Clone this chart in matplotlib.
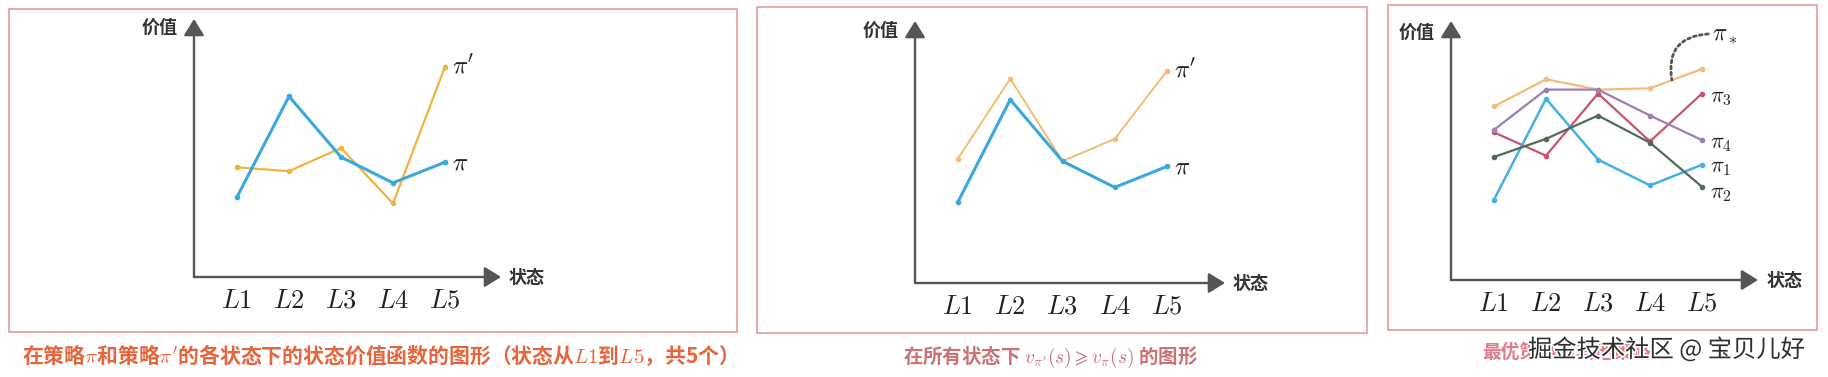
import matplotlib
matplotlib.use('Agg')
import matplotlib.pyplot as plt
from matplotlib.patches import Rectangle
import matplotlib.patheffects as pe

plt.rcParams['font.family'] = ['Noto Sans CJK SC', 'DejaVu Sans']
plt.rcParams['mathtext.fontset'] = 'cm'

W, H = 1828, 377

# state labels and state values
states = ['$L1$', '$L2$', '$L3$', '$L4$', '$L5$']
v_pi = [3.1, 7.0, 4.65, 3.65, 4.45]
v_pi_prime_1 = [4.25, 4.1, 5.0, 2.85, 8.15]
v_pi_prime_2 = [4.75, 7.8, 4.65, 5.5, 8.1]
v_pi_star = [6.7, 7.75, 7.35, 7.4, 8.15]
v_pi2 = [4.75, 5.45, 6.35, 5.3, 3.6]
v_pi3 = [5.7, 4.8, 7.2, 5.35, 7.2]
v_pi4 = [5.8, 7.35, 7.35, 6.35, 5.4]

fig = plt.figure(figsize=(W / 100, H / 100), dpi=100)


def make_axes(left, right, bottom, top, x0, step, unit):
    # box given in pixels, x0 = pixel of L1, step = pixels between states
    ax = fig.add_axes([left / W, 1 - bottom / H, (right - left) / W, (bottom - top) / H])
    ax.set_xlim((left - x0) / step, (right - x0) / step)
    ax.set_ylim(0, (bottom - top) / unit)
    for s in ax.spines.values():
        s.set_visible(False)
    ax.patch.set_visible(False)
    ax.set_yticks([])
    ax.set_xticks(range(len(states)), states, fontsize=19)
    ax.tick_params(axis='x', length=0, pad=7, colors='#222')
    arrow = dict(arrowstyle='-|>,head_length=1.0,head_width=0.62', mutation_scale=10,
                 lw=1.7, color='#555555', shrinkA=0, shrinkB=0)
    ax.annotate('', xy=(0, 1), xytext=(0, 0), xycoords='axes fraction', arrowprops=arrow)
    ax.annotate('', xy=(1, 0), xytext=(0, 0), xycoords='axes fraction', arrowprops=arrow)
    return ax


def line(ax, vals, color, lw, label, dx=5, dy=0, fs=18):
    ax.plot(range(len(vals)), vals, color=color, lw=lw, marker='o', ms=3, clip_on=False)
    ax.annotate(label, xy=(len(vals) - 1, vals[-1]), xytext=(dx, dy), textcoords='offset points',
                ha='left', va='center', fontsize=fs, color='#222')


def frame(x1, y1, x2, y2):
    fig.add_artist(Rectangle((x1 / W, 1 - y2 / H), (x2 - x1) / W, (y2 - y1) / H,
                             transform=fig.transFigure, fill=False, ec='#e79a9a', lw=1.2))


def axis_names(xv, yv, xs, ys):
    fig.text(xv / W, 1 - yv / H, '价值', ha='center', va='center', fontsize=13,
             weight='bold', color='#333')
    fig.text(xs / W, 1 - ys / H, '状态', ha='center', va='center', fontsize=13,
             weight='bold', color='#333')


# panel 1
frame(9, 9, 737, 332)
ax1 = make_axes(194, 501, 277, 19, 237, 52, 25.8)
line(ax1, v_pi_prime_1, '#f1b43c', 1.6, r"$\pi'$")
line(ax1, v_pi, '#3aa8dc', 2.2, r"$\pi$")
axis_names(160, 27, 527, 277)
fig.text(375 / W, 1 - 355 / H,
         r"在策略$\pi$和策略$\pi'$的各状态下的状态价值函数的图形（状态从$L1$到$L5$，共5个）",
         ha='center', va='center', fontsize=15, color='#e8643c', weight='bold')

# panel 2
frame(757, 7, 1367, 333)
ax2 = make_axes(915, 1225, 283, 21, 958, 52.25, 26.2)
line(ax2, v_pi_prime_2, '#f4bb72', 1.4, r"$\pi'$")
line(ax2, v_pi, '#3aa8dc', 2.2, r"$\pi$")
axis_names(881, 30, 1251, 283)
fig.text(1051 / W, 1 - 357 / H, r"在所有状态下 $v_{\pi'}(s) \geqslant v_{\pi}(s)$ 的图形",
         ha='center', va='center', fontsize=14, color='#c97474', weight='bold')

# panel 3
frame(1388, 5, 1817, 330)
ax3 = make_axes(1451, 1758, 280, 21, 1494, 52, 25.9)
line(ax3, v_pi_star, '#f5bb7a', 1.6, '')
line(ax3, v_pi3, '#c9546e', 1.6, r"$\pi_3$", 6, -2, 16)
line(ax3, v_pi4, '#9b7fb5', 1.6, r"$\pi_4$", 6, -2, 16)
line(ax3, v_pi, '#41b2e3', 1.8, r"$\pi_1$", 6, -1, 16)
line(ax3, v_pi2, '#4f6b55', 1.6, r"$\pi_2$", 6, -4, 16)
ax3.text(4.19, 9.46, r"$\pi_*$", ha='left', va='center', fontsize=17, color='#222')
ax3.annotate('', xy=(3.42, 7.72), xytext=(4.12, 9.5),
             arrowprops=dict(arrowstyle='-', connectionstyle='arc3,rad=0.55', ls=(0, (1, 1.2)),
                             lw=2, color='#555555', shrinkA=0, shrinkB=0))
axis_names(1417, 32, 1785, 280)
fig.text(1482 / W, 1 - 352 / H, '最优策略与其他策略', ha='left', va='center', fontsize=13.5,
         color='#e27c88', weight='bold')
fig.text(1528 / W, 1 - 350 / H, '掘金技术社区 @ 宝贝儿好', ha='left', va='center', fontsize=17.5,
         color='#2e2e2e', path_effects=[pe.withStroke(linewidth=2.5, foreground='white')])

fig.savefig('out.png', dpi=100, facecolor='white')
